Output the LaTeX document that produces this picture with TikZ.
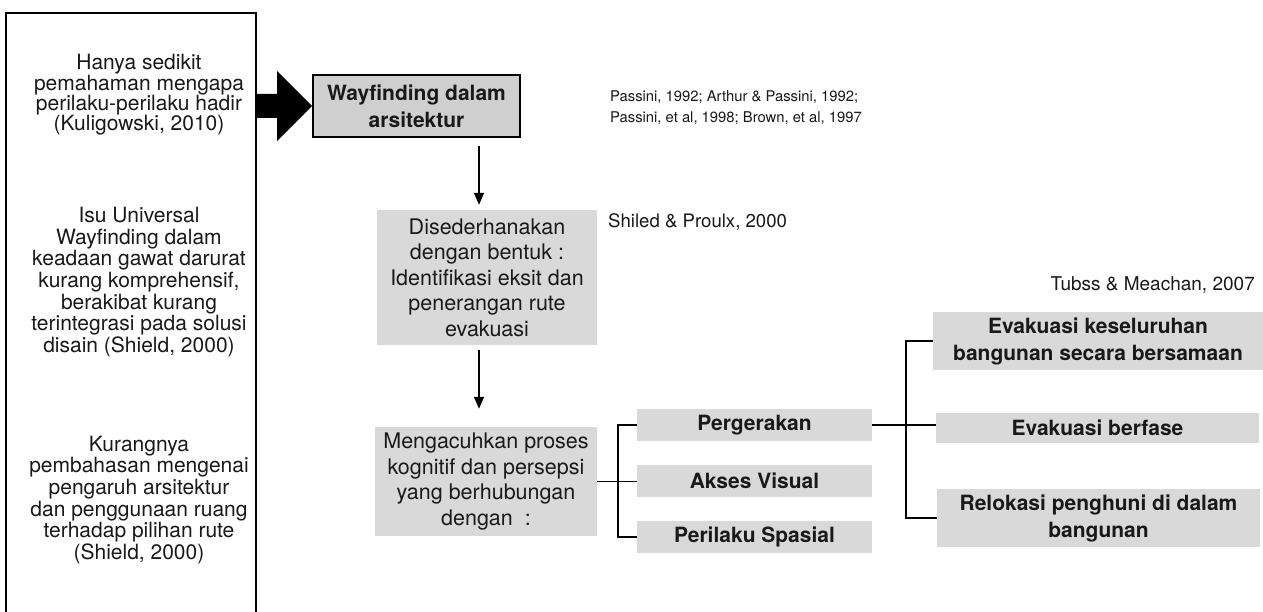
\documentclass[tikz,border=0pt]{standalone}
\usepackage{fontspec}
\setmainfont{TeX Gyre Heros}
\usetikzlibrary{arrows.meta,calc}

\begin{document}
\begin{tikzpicture}[
  x=1pt, y=-1pt,
  every node/.style={inner sep=0pt, text=black!90},
  issuetext/.style={align=center, font=\fontsize{21}{21.7}\selectfont},
  gbox/.style={fill=gray!30, align=center, font=\fontsize{21.5}{25.5}\selectfont},
  bbox/.style={fill=gray!30, align=center, font=\bfseries\fontsize{21}{27}\selectfont},
  cite/.style={align=left, anchor=west},
  arr/.style={-{Triangle[length=12pt,width=10pt]}, line width=1.5pt},
  link/.style={line width=1.2pt}
]
\clip (0,0) rectangle (1263,612);
\fill[white] (0,0) rectangle (1263,612);

\node[draw, line width=2.2pt, minimum width=250, minimum height=620, anchor=north west] (leftbox) at (5,12) {};
\node[issuetext, font=\fontsize{21}{20.3}\selectfont] (isu1) at (139,95) {Hanya sedikit\\pemahaman mengapa\\perilaku-perilaku hadir\\(Kuligowski, 2010)};
\node[issuetext] (isu2) at (139,282) {Isu Universal\\Wayfinding dalam\\keadaan gawat darurat\\kurang komprehensif,\\berakibat kurang\\terintegrasi pada solusi\\disain (Shield, 2000)};
\node[issuetext] (isu3) at (139,500) {Kurangnya\\pembahasan mengenai\\pengaruh arsitektur\\dan penggunaan ruang\\terhadap pilihan rute\\(Shield, 2000)};

\node[bbox, draw, line width=2pt, fill=gray!38, minimum width=207, minimum height=62] (wayf) at (416.5,106) {Wayfinding dalam\\arsitektur};
\node[cite, font=\fontsize{14.8}{21}\selectfont] (citeA) at (610,108) {Passini, 1992; Arthur \& Passini, 1992;\\Passini, et al, 1998; Brown, et al, 1997};

\coordinate (bigtail) at (leftbox.east |- wayf.west);
\fill[black] ($(bigtail)+(0,-12)$) -- ++(20,0) -- ++(0,-23) -- (wayf.west)
  -- ($(bigtail)+(20,35)$) -- ++(0,-23) -- ($(bigtail)+(0,12)$) -- cycle;

\node[gbox, minimum width=220, minimum height=135] (simp) at (487,277.5) {Disederhanakan\\dengan bentuk :\\Identifikasi eksit dan\\penerangan rute\\evakuasi};
\node[cite, font=\fontsize{18.6}{22}\selectfont] (citeB) at (608,222) {Shiled \& Proulx, 2000};

\node[gbox, minimum width=222, minimum height=109] (meng) at (486,481.5) {Mengacuhkan proses\\kognitif dan persepsi\\yang berhubungan\\dengan\ \ :};

\draw[arr] ($(wayf.south -| simp.north)+(-8,8)$) -- ($(simp.north)+(-8,-5)$);
\draw[arr] ($(simp.south)+(-8,5)$) -- ($(meng.north)+(-7,-18)$);

\node[bbox, minimum width=235, minimum height=32] (gerak) at (754.5,425) {Pergerakan};
\node[bbox, minimum width=235, minimum height=32] (akses) at (754.5,481) {Akses Visual};
\node[bbox, minimum width=235, minimum height=32] (spasial) at (754.5,537) {Perilaku Spasial};

\coordinate (barA) at (618,0);
\draw[link] (meng.east) -- (meng.east -| akses.west);
\draw[link] (gerak.west) -- (gerak.west -| barA) -- (spasial.west -| barA) -- (spasial.west);

\node[bbox, minimum width=330, minimum height=58] (total) at (1098,341) {Evakuasi keseluruhan\\bangunan secara bersamaan};
\node[bbox, minimum width=323, minimum height=30] (fase) at (1097.5,428) {Evakuasi berfase};
\node[bbox, minimum width=323, minimum height=58] (reloc) at (1098.5,518) {Relokasi penghuni di dalam\\bangunan};
\node[cite, anchor=east, font=\fontsize{19}{22}\selectfont] (citeC) at (1255,285) {Tubss \& Meachan, 2007};

\coordinate (barB) at (906,0);
\draw[link] (gerak.east) -- (gerak.east -| fase.west);
\draw[link] (total.west) -- (total.west -| barB) -- (reloc.west -| barB) -- (reloc.west);
\end{tikzpicture}
\end{document}
